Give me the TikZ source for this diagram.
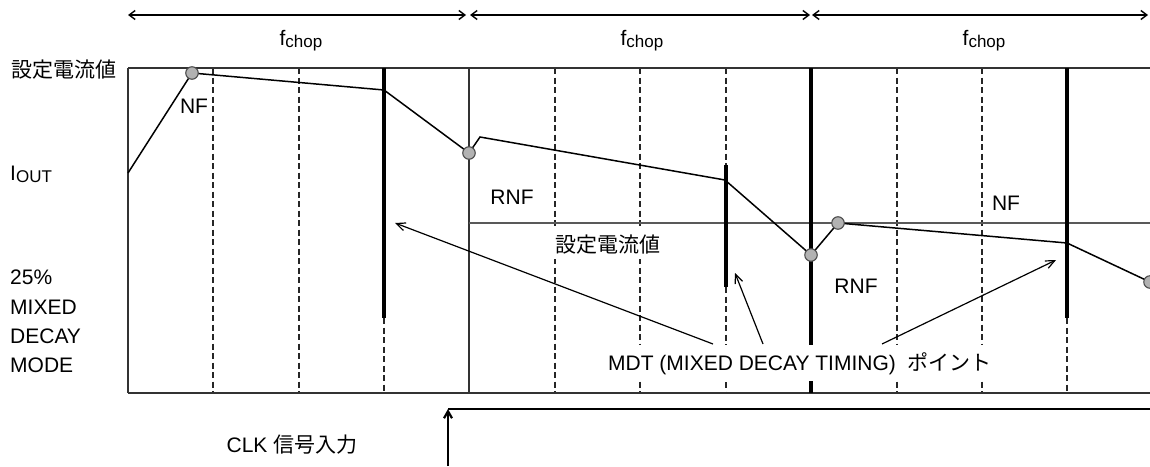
\documentclass[tikz,border=0pt]{standalone}
\usepackage{fontspec}
\setmainfont{Liberation Sans}
\newfontfamily\cjk{Noto Sans CJK JP}
\usetikzlibrary{arrows.meta}
\newcommand\subtxt[1]{\raisebox{-2pt}{\fontsize{17}{18}\selectfont #1}}
\begin{document}
\begin{tikzpicture}[x=1pt,y=-1pt,
  txt/.style={font=\fontsize{21}{24}\selectfont, inner sep=0pt, text=black},
  frameln/.style={draw=black!80, line width=1.6pt},
  midln/.style={draw=black!65, line width=1.7pt},
  dashln/.style={draw=black!85, line width=1.2pt, dash pattern=on 6pt off 3.5pt},
  mdtln/.style={draw=black, line width=4.5pt},
  wave/.style={draw=black, line width=1.5pt},
  dot/.style={circle, draw=black!70, fill=black!30, line width=1.1pt, minimum size=12.5pt, inner sep=0pt},
  dim/.style={draw=black, line width=1.4pt, {Straight Barb[length=6pt,width=9pt]}-{Straight Barb[length=6pt,width=9pt]}},
  note/.style={draw=black, line width=1.2pt, -{Straight Barb[length=9pt,width=8pt]}},
  clkln/.style={draw=black, line width=2.6pt},
]
\useasboundingbox (0,0) rectangle (1150,466);
\clip (0,0) rectangle (1150,466);

% chopping period dimension arrows
\coordinate (d0) at (128,15);
\coordinate (d1) at (468,15);
\coordinate (d2) at (811,15);
\coordinate (d3) at (1150,15);
\draw[dim, shorten >=2pt] (d0) -- (d1);
\draw[dim, shorten <=2pt, shorten >=1pt] (d1) -- (d2);
\draw[dim, shorten <=1pt, shorten >=2pt] (d2) -- (d3);
\node[txt, anchor=base] (f1) at (301,45) {f\subtxt{chop}};
\node[txt, anchor=base] (f2) at (642,45) {f\subtxt{chop}};
\node[txt, anchor=base] (f3) at (984,45) {f\subtxt{chop}};

% dashed grid
\foreach \x in {213,299,555,640,897,982}
  \draw[dashln] (\x,68) -- (\x,393);
\draw[dashln] (384,318) -- (384,393);
\draw[dashln] (726,68) -- (726,165);
\draw[dashln] (726,287) -- (726,393);
\draw[dashln] (1067,318) -- (1067,393);

% frame
\draw[frameln] (128,68) -- (1150,68);
\draw[frameln] (128,393) -- (1150,393);
\draw[frameln] (128,68) -- (128,393);
\draw[frameln] (469,68) -- (469,393);
\draw[midln] (469,223) -- (1150,223);

% waveform
\coordinate (w0) at (128,173);
\coordinate (w1) at (192,73);
\coordinate (w2) at (384,90);
\coordinate (w3) at (469,153);
\coordinate (w4) at (480,137);
\coordinate (w5) at (725,180);
\coordinate (w6) at (811,255);
\coordinate (w7) at (838,223);
\coordinate (w8) at (1067,243);
\coordinate (w9) at (1150,282);
\draw[wave] (w0) -- (w1) -- (w2) -- (w3) -- (w4) -- (w5) -- (w6) -- (w7) -- (w8) -- (w9);

% MDT points (thick)
\draw[mdtln] (384,68) -- (384,318);
\draw[mdtln] (726,165) -- (726,287);
\draw[mdtln] (811,68) -- (811,393);
\draw[mdtln] (1067,68) -- (1067,318);

\node[dot] (c1) at (w1) {};
\node[dot] (c3) at (w3) {};
\node[dot] (c6) at (w6) {};
\node[dot] (c7) at (w7) {};
\node[dot] (c9) at (w9) {};

% left labels
\node[txt, anchor=base west] (setL) at (11,77) {\cjk 設定電流値};
\node[txt, anchor=base west] (iout) at (10,180) {I\subtxt{OUT}};
\node[txt, anchor=base west] (m1) at (10,284) {25\%};
\node[txt, anchor=base west] (m2) at (10,314) {MIXED};
\node[txt, anchor=base west] (m3) at (10,343) {DECAY};
\node[txt, anchor=base west] (m4) at (10,372) {MODE};

% inner labels
\node[txt, anchor=base] (nf1) at (194,113) {NF};
\node[txt, anchor=base] (rnf1) at (512,204) {RNF};
\node[txt, anchor=base, fill=white, inner xsep=4pt, inner ysep=5pt] (setM) at (608,252) {\cjk 設定電流値};
\node[txt, anchor=base] (rnf2) at (856,293) {RNF};
\node[txt, anchor=base] (nf2) at (1006,210) {NF};
\node[txt, anchor=base, fill=white, inner xsep=6pt, inner ysep=7pt] (mdt) at (800,370)
  {MDT (MIXED DECAY TIMING)\hspace{12pt}{\cjk ポイント}};

% annotation arrows
\coordinate (s1) at (713,344);
\coordinate (s2) at (763,344);
\coordinate (s3) at (882,344);
\coordinate (t1) at (395,223);
\coordinate (t2) at (735,273);
\coordinate (t3) at (1056,260);
\draw[note] (s1) -- (t1);
\draw[note] (s2) -- (t2);
\draw[note] (s3) -- (t3);

% CLK input
\coordinate (k0) at (448,466);
\coordinate (k1) at (448,409);
\coordinate (k2) at (1150,409);
\draw[clkln] (k1) -- (k2);
\draw[draw=black, line width=2.2pt, -{Straight Barb[length=7pt,width=8pt]}] (k0) -- (k1);
\node[txt, anchor=base] (clk) at (292,452) {CLK {\cjk 信号入力}};
\end{tikzpicture}
\end{document}
